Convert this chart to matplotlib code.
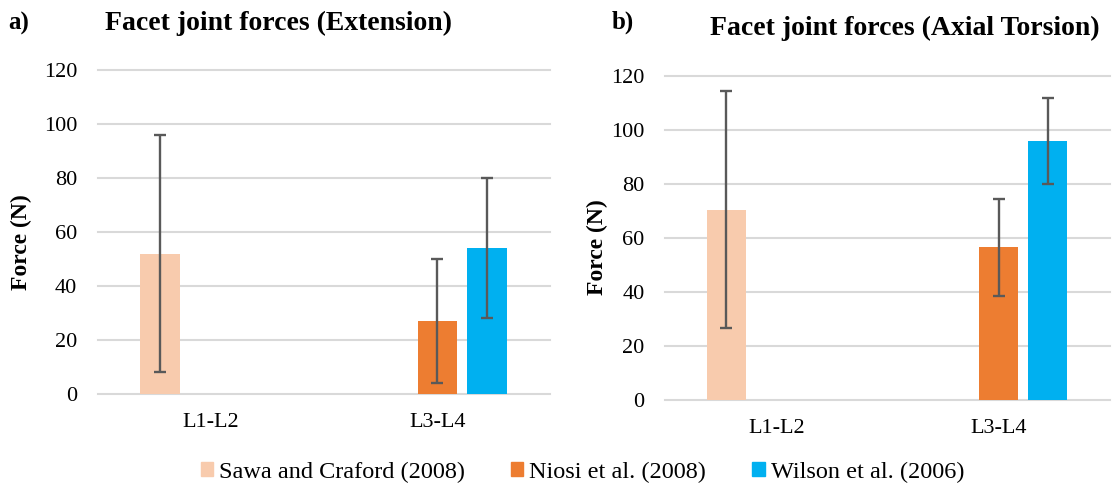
import numpy as np
import matplotlib
matplotlib.use("Agg")
import matplotlib.pyplot as plt
from matplotlib.patches import Patch

plt.rcParams['font.family'] = ['Liberation Serif', 'DejaVu Serif']

categories = ['L1-L2', 'L3-L4']
series = ['Sawa and Craford (2008)', 'Niosi et al. (2008)', 'Wilson et al. (2006)']
colors = ['#F8CBAD', '#ED7D31', '#00B0F0']

# Extension: mean and SD per series (None = no data)
ext_mean = [[52, None], [None, 27], [None, 54]]
ext_err = [[44, None], [None, 23], [None, 26]]

# Axial torsion
tor_mean = [[70.5, None], [None, 56.5], [None, 96]]
tor_err = [[44, None], [None, 18], [None, 16]]

panels = [
    ('a)', 'Facet joint forces (Extension)', ext_mean, ext_err),
    ('b)', 'Facet joint forces (Axial Torsion)', tor_mean, tor_err),
]
axes_pos = [[0.0875, 0.191, 0.404, 0.665], [0.594, 0.179, 0.397, 0.665]]
title_pos = [(0.094, 0.952), (0.634, 0.942)]
tag_pos = [(0.007, 0.952), (0.546, 0.955)]
ylabel_xy = [(-0.145, 0.47), (-0.128, 0.47)]

fig = plt.figure(figsize=(11.2, 4.87), dpi=100)

bar_w = 0.175
offsets = [-0.225, 0.0, 0.22]
x = np.arange(len(categories))

for k, (tag, title, means, errs) in enumerate(panels):
    ax = fig.add_axes(axes_pos[k])
    for i in range(len(series)):
        for j in range(len(categories)):
            m = means[i][j]
            if m is None:
                continue
            ax.bar(x[j] + offsets[i], m, bar_w, color=colors[i], zorder=2)
            ax.errorbar(x[j] + offsets[i], m, yerr=errs[i][j], fmt='none',
                        ecolor='#595959', elinewidth=1.7, capsize=4.3,
                        capthick=1.7, zorder=3)
    ax.set_xlim(-0.5, 1.5)
    ax.set_ylim(0, 120)
    ax.set_yticks(range(0, 121, 20))
    ax.set_xticks(x)
    ax.set_xticklabels(categories)
    ax.yaxis.grid(True, color='#D9D9D9', linewidth=1.5, zorder=0)
    for g in ax.get_ygridlines():
        g.set_clip_on(False)
    ax.set_axisbelow(True)
    for s in ax.spines.values():
        s.set_visible(False)
    ax.tick_params(axis='both', length=0, labelsize=16)
    ax.tick_params(axis='y', pad=15)
    ax.tick_params(axis='x', pad=14)
    ax.set_ylabel('Force (N)', fontsize=17, fontweight='bold')
    ax.yaxis.set_label_coords(*ylabel_xy[k])
    fig.text(title_pos[k][0], title_pos[k][1], title, fontsize=20,
             fontweight='bold', va='center', ha='left')
    fig.text(tag_pos[k][0], tag_pos[k][1], tag, fontsize=18,
             fontweight='bold', va='center')

handles = [Patch(color=c) for c in colors]
fig.legend(handles, series, loc='center', bbox_to_anchor=(0.52, 0.03),
           ncol=3, frameon=False, fontsize=17.5, handlelength=0.5,
           handleheight=0.5, handletextpad=0.25, columnspacing=1.9,
           borderaxespad=0, borderpad=0)

fig.savefig('out.png', dpi=100)
